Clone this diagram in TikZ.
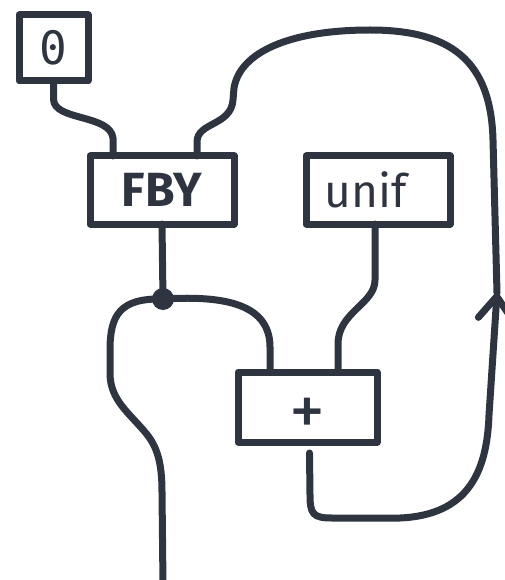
\documentclass[tikz,border=0pt]{standalone}
\usepackage{fontspec}
\setmainfont{Fira Sans}
\newfontfamily\monofnt{DejaVu Sans Mono}
\usetikzlibrary{arrows.meta,calc}
\definecolor{ink}{RGB}{46,52,64}
\begin{document}
\begin{tikzpicture}[x=1pt,y=-1pt,
  wire/.style={draw=ink,line width=7pt,line cap=round,line join=round},
  boxnode/.style={draw=ink,line width=7pt,rectangle,inner sep=0pt,outer sep=0pt,text=ink,line join=round},
  tipped/.style={wire,-{Straight Barb[length=22pt,width=34pt,line cap=round,line join=round]}}]
\useasboundingbox (0,0) rectangle (505,580);
\node[boxnode,minimum width=69pt,minimum height=66pt] (zero) at (53.5,48) {\monofnt\fontsize{46}{46}\selectfont 0};
\node[boxnode,minimum width=144pt,minimum height=68pt] (fby) at (162,190) {\fontsize{48}{48}\selectfont\bfseries FBY};
\node[boxnode,minimum width=144pt,minimum height=68pt] (unif) at (378,190) {\fontsize{46}{46}\selectfont unif\hspace*{24pt}};
\node[boxnode,minimum width=139pt,minimum height=70pt] (plus) at (307.5,407) {\raisebox{-28pt}[0pt][0pt]{\fontsize{72}{72}\selectfont +}};
\node[circle,fill=ink,minimum size=22pt,inner sep=0pt] (split) at (163,299) {};
\coordinate (loopmid) at (497,293);
\coordinate (outbot) at (163,585);
% 0 -> FBY
\draw[wire] (zero.south) -- ($(zero.south)+(0,18)$) .. controls ($(zero.south)+(0,40)$) and ($(fby.north west)+(20,-42)$) .. ($(fby.north west)+(23,-18)$) -- ($(fby.north west)+(23,0)$);
% FBY -> split
\draw[wire] (fby.south) -- (split.center);
% split -> plus
\draw[wire] (split.center) .. controls (215,296) and (270,300) .. ($(plus.north west)+(32,-25)$) -- ($(plus.north west)+(32,0)$);
% split -> out
\draw[wire] (split.center) .. controls (120,298) and (110,315) .. (110,350) -- (110,375) .. controls (111,400) and (128,412) .. (145,432) .. controls (157,446) and (162,462) .. (162,492) -- (outbot);
% unif -> plus
\draw[wire] ($(unif.south)+(-3,0)$) -- ($(unif.south)+(-3,56)$) .. controls ($(unif.south)+(-3,80)$) and ($(plus.north east)+(-39,-60)$) .. ($(plus.north east)+(-39,-28)$) -- ($(plus.north east)+(-39,0)$);
% plus -> loop (arrow)
\draw[tipped] ($(plus.south)+(2,11)$) -- (310,495) .. controls (310,514) and (313,518) .. (332,518) -- (400,518) .. controls (468,515) and (487,472) .. (489,415) -- (loopmid);
% loop -> FBY
\draw[wire] (loopmid) -- (493,140) .. controls (491,60) and (450,30) .. (370,30) .. controls (290,30) and (240,52) .. (234,88) -- (233,100) .. controls (231,126) and (197,122) .. ($(fby.north east)+(-37,-14)$) -- ($(fby.north east)+(-37,0)$);
\end{tikzpicture}
\end{document}
